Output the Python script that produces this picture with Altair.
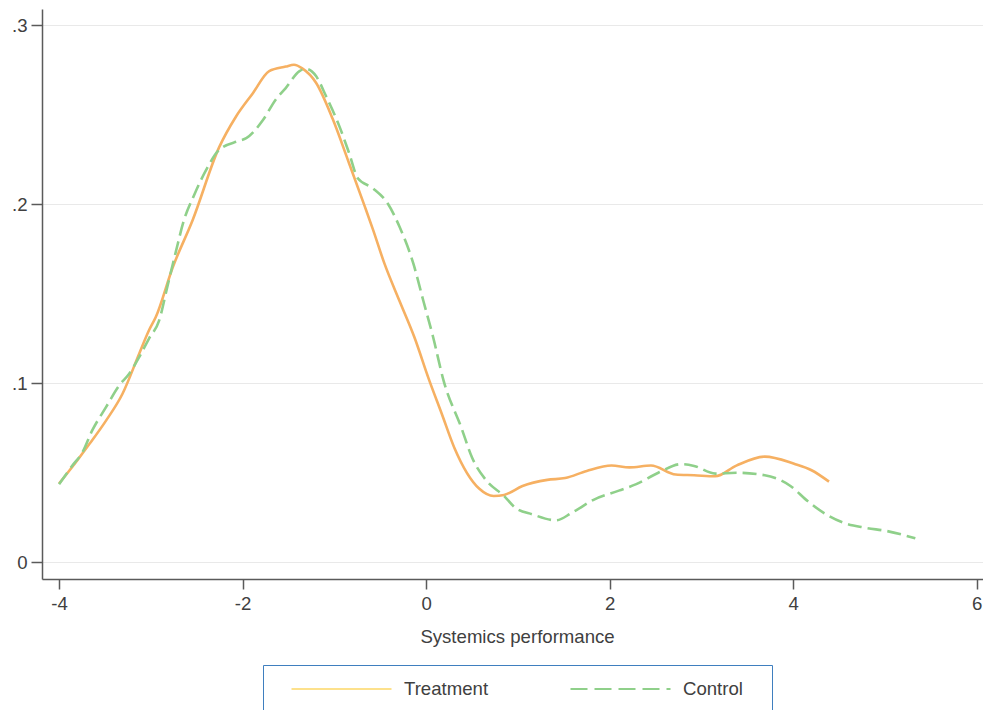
import altair as alt
import pandas as pd

# ---- data ----
treat_x = [-4.0, -3.8, -3.67, -3.49, -3.31, -3.127, -3.02, -2.946, -2.76, -2.546, -2.255, -2.073,
           -1.89, -1.71, -1.53, -1.44, -1.35, -1.20, -1.02, -0.84, -0.67, -0.58, -0.455, -0.29,
           -0.13, 0.035, 0.17, 0.307, 0.58, 0.736, 0.85, 1.05, 1.32, 1.515, 1.75, 2.02, 2.216,
           2.45, 2.72, 2.92, 3.15, 3.38, 3.69, 4.01, 4.2, 4.39]
treat_y = [0.044, 0.057, 0.066, 0.079, 0.094, 0.1165, 0.1296, 0.137, 0.165, 0.191, 0.232, 0.249,
           0.262, 0.2745, 0.277, 0.278, 0.276, 0.268, 0.248, 0.223, 0.199, 0.186, 0.167, 0.146,
           0.126, 0.1015, 0.083, 0.064, 0.041, 0.037, 0.0376, 0.0426, 0.046, 0.047, 0.051, 0.054, 0.053,
           0.054, 0.049, 0.0486, 0.048, 0.054, 0.059, 0.055, 0.0514, 0.045]

ctrl_x = [-4.0, -3.855, -3.746, -3.64, -3.49, -3.346, -3.236, -3.127, -3.02, -2.91, -2.82, -2.73,
          -2.64, -2.53, -2.40, -2.255, -2.04, -1.96, -1.78, -1.64, -1.53, -1.38, -1.31, -1.20,
          -1.09, -0.945, -0.84, -0.745, -0.58, -0.42, -0.29, -0.14, -0.03, 0.075, 0.19, 0.385,
          0.50, 0.66, 0.85, 0.97, 1.16, 1.415, 1.59, 1.83, 2.10, 2.29, 2.53, 2.78, 2.92, 3.15,
          3.38, 3.69, 3.97, 4.16, 4.36, 4.55, 4.79, 5.02, 5.33]
ctrl_y = [0.0436, 0.054, 0.0613, 0.0735, 0.0865, 0.0987, 0.1053, 0.1146, 0.125, 0.135, 0.154, 0.173,
          0.191, 0.205, 0.219, 0.2305, 0.2355, 0.237, 0.247, 0.2585, 0.265, 0.2745, 0.2757, 0.2717,
          0.2604, 0.2436, 0.2287, 0.2146, 0.209, 0.2006, 0.1875, 0.167, 0.146, 0.126, 0.1015, 0.075,
          0.0585, 0.0454, 0.037, 0.0305, 0.0267, 0.0234, 0.0277, 0.035, 0.040, 0.0436, 0.050, 0.0548,
          0.0538, 0.0495, 0.050, 0.0486, 0.0426, 0.034, 0.0267, 0.022, 0.0192, 0.0174, 0.0133]

groups = ["Treatment", "Control"]
x_ticks = [-4, -2, 0, 2, 4, 6]
y_ticks = [0, 0.1, 0.2, 0.3]

df = pd.concat([
    pd.DataFrame({"x": treat_x, "y": treat_y, "group": "Treatment"}),
    pd.DataFrame({"x": ctrl_x, "y": ctrl_y, "group": "Control"}),
], ignore_index=True)

FONT = "Liberation Sans"
FS = 18.6
TEXT = "#404040"
AXIS = "#5a5a5a"
ORANGE = "#f6b062"
GREEN = "#8fd08a"
YELLOW = "#fde18c"
BLUE = "#3f7fbf"

xscale = alt.Scale(domain=[-4.186, 6.068], nice=False, zero=False)
yscale = alt.Scale(domain=[-0.0094, 0.3092], nice=False, zero=False)

xaxis = alt.Axis(title="Systemics performance", values=x_ticks, labelExpr="toString(datum.value)",
                 grid=False, domainColor=AXIS, domainWidth=1.5, tickColor=AXIS, tickWidth=1.5,
                 tickSize=10, labelPadding=5, labelFont=FONT, labelFontSize=FS, labelColor=TEXT,
                 titleFont=FONT, titleFontSize=FS, titleFontWeight="normal", titleColor=TEXT,
                 titlePadding=15, titleX=475, titleAlign="center")
yaxis = alt.Axis(title=None, values=y_ticks,
                 labelExpr="datum.value == 0 ? '0' : replace(format(datum.value, '.1f'), '0.', '.')",
                 grid=True, gridColor="#e9e9e9", gridWidth=1.2,
                 domainColor=AXIS, domainWidth=1.5, tickColor=AXIS, tickWidth=1.5,
                 tickSize=11, labelPadding=4, labelFont=FONT, labelFontSize=FS, labelColor=TEXT)

base = alt.Chart(df).encode(
    x=alt.X("x:Q", scale=xscale, axis=xaxis),
    y=alt.Y("y:Q", scale=yscale, axis=yaxis),
)

treat = base.transform_filter("datum.group == 'Treatment'").mark_line(
    color=ORANGE, strokeWidth=2.6, interpolate="monotone")
ctrl = base.transform_filter("datum.group == 'Control'").mark_line(
    color=GREEN, strokeWidth=2.6, strokeDash=[14, 6], interpolate="monotone")

# the legend title is an invisible spacer that widens the box on the right
leg = alt.Legend(title="_", titleOrient="right", titleColor="white", titleFont=FONT,
                 titleFontSize=FS, titlePadding=4,
                 orient="none", legendX=221, legendY=656, direction="horizontal",
                 strokeColor=BLUE, fillColor="white", padding=14, symbolType="stroke",
                 symbolSize=10000, symbolStrokeWidth=2.2, symbolOffset=13, labelOffset=11,
                 clipHeight=20,
                 labelFont=FONT, labelFontSize=FS, labelColor=TEXT, columnPadding=67)

legend_layer = base.transform_filter("false").mark_line().encode(
    color=alt.Color("group:N", scale=alt.Scale(domain=groups, range=[YELLOW, GREEN]), legend=leg),
    strokeDash=alt.StrokeDash("group:N", scale=alt.Scale(domain=groups, range=[[1, 0], [17, 7]]), legend=leg),
)

chart = alt.layer(legend_layer, treat, ctrl).properties(
    width=941, height=570,
    autosize=alt.AutoSizeParams(type="none"),
    padding={"left": 42, "top": 9, "right": 0, "bottom": 131},
    background="white",
).configure_view(stroke=None)

chart.save("out.html", embed_options={"renderer": "svg", "actions": False})
